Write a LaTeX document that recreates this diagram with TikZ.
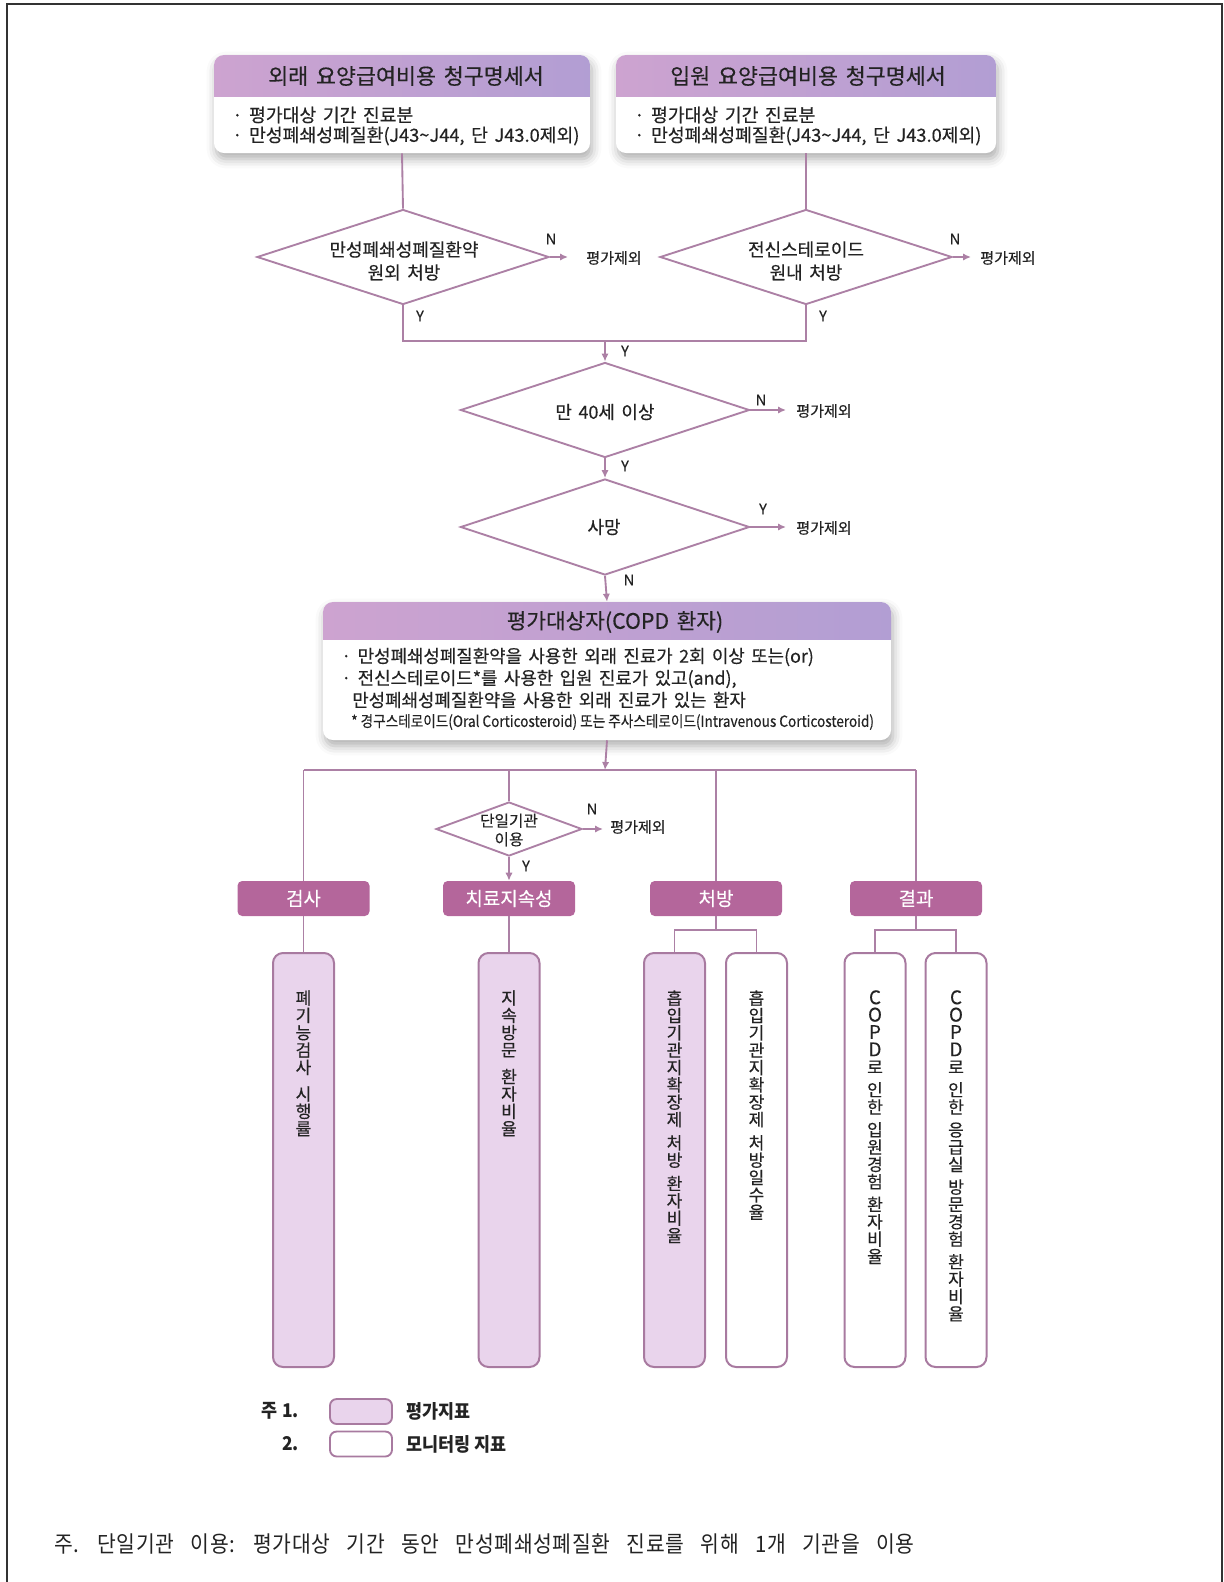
\documentclass[tikz,border=0pt]{standalone}
\usepackage{fontspec}
\setmainfont{Noto Sans CJK KR}[WordSpace=1.6, FakeBold=0.35]
\newfontfamily\condfont{Noto Sans CJK KR}[FakeStretch=0.88, FakeBold=0.3]
\newfontfamily\legfont{Noto Sans CJK KR}[FakeStretch=0.92]
\newfontfamily\notefont{Noto Sans CJK KR}[FakeStretch=0.9, WordSpace=3.1, LetterSpace=3]
\usetikzlibrary{arrows.meta,shapes.geometric,shadows.blur}
\definecolor{linec}{RGB}{172,128,165}
\definecolor{catc}{RGB}{180,102,155}
\definecolor{lav}{RGB}{233,212,236}
\definecolor{hdrL}{RGB}{205,163,208}
\definecolor{hdrR}{RGB}{178,158,211}
\definecolor{txt}{RGB}{35,35,35}
\definecolor{bord}{RGB}{168,122,160}
\definecolor{framec}{RGB}{50,50,50}
\newcommand{\bigL}[1]{{\fontsize{14}{13}\selectfont #1}}
\begin{document}
\begin{tikzpicture}[x=0.75pt,y=-0.75pt,
  ln/.style={draw=linec, line width=1.4pt},
  arr/.style={ln, -{Latex[length=6pt,width=5.5pt]}},
  dia/.style={diamond, draw=linec, line width=1.4pt, inner sep=0pt, fill=white},
  wbox/.style={rectangle, fill=white, inner sep=0pt, rounded corners=7.5pt,
    blur shadow={shadow xshift=1.5pt, shadow yshift=-4.5pt, shadow blur radius=7pt, shadow opacity=32}},
  htitle/.style={font=\fontsize{16.3}{18}\selectfont, text=txt, inner sep=0pt},
  bul/.style={font=\fontsize{13.7}{15}\selectfont, text=txt, inner sep=0pt, anchor=west},
  bul3/.style={font=\fontsize{13.4}{15}\selectfont, text=txt, inner sep=0pt, anchor=west},
  dtext/.style={font=\fontsize{13.5}{17.2}\selectfont, text=txt, inner sep=0pt, align=center},
  excl/.style={font=\fontsize{11.3}{12}\selectfont, text=txt, inner sep=0pt},
  yn/.style={font=\fontsize{11}{12}\selectfont, text=txt, inner sep=0pt},
  catbox/.style={rectangle, fill=catc, rounded corners=3.5pt, inner sep=0pt,
    minimum width={132*0.75pt}, minimum height={35*0.75pt},
    text=white, font=\fontsize{14.2}{15}\selectfont},
  tall/.style={rectangle, draw=bord, line width=1.5pt, rounded corners=7.5pt, inner sep=0pt,
    minimum width={61*0.75pt}, minimum height={414*0.75pt}},
  vt/.style={font=\fontsize{12.8}{13}\selectfont, text=txt, inner sep=0pt, align=center, anchor=north},
  legtext/.style={font=\legfont\bfseries\fontsize{14.2}{15}\selectfont, text=txt, inner sep=0pt},
  legbox/.style={rectangle, draw=bord, line width=1.4pt, rounded corners=5pt, inner sep=0pt,
    minimum width={62*0.75pt}, minimum height={25*0.75pt}}
]
\useasboundingbox (0,0) rectangle (1224,1582);
\draw[framec, line width=1.6pt] (7,1582) -- (7,4) -- (1222,4) -- (1222,1582);

% ---------- top boxes ----------
\node (boxA) [wbox, minimum width={376*0.75pt}, minimum height={98*0.75pt}] at (402,104) {};
\begin{scope}
  \clip[rounded corners=7.5pt] (214,55) rectangle (590,153);
  \shade[left color=hdrL, right color=hdrR] (214,55) rectangle (590,96);
\end{scope}
\node (tA) [htitle] at (406,76) {외래 요양급여비용 청구명세서};
\node (bA1) [bul] at (232,115) {· 평가대상 기간 진료분};
\node (bA2) [bul] at (232,136) {· 만성폐쇄성폐질환(J43\textasciitilde J44, 단 J43.0제외)};

\node (boxB) [wbox, minimum width={380*0.75pt}, minimum height={98*0.75pt}] at (806,104) {};
\begin{scope}
  \clip[rounded corners=7.5pt] (616,55) rectangle (996,153);
  \shade[left color=hdrL, right color=hdrR] (616,55) rectangle (996,96);
\end{scope}
\node (tB) [htitle] at (808,76) {입원 요양급여비용 청구명세서};
\node (bB1) [bul] at (634,115) {· 평가대상 기간 진료분};
\node (bB2) [bul] at (634,136) {· 만성폐쇄성폐질환(J43\textasciitilde J44, 단 J43.0제외)};

% ---------- first diamonds ----------
\node (d1) [dia, minimum width={292*0.75pt}, minimum height={95*0.75pt}] at (403,257) {};
\node (d1t) [dtext] at (404,261) {만성폐쇄성폐질환약\\원외 처방};
\node (d2) [dia, minimum width={292*0.75pt}, minimum height={95*0.75pt}] at (806,257) {};
\node (d2t) [dtext] at (806,261) {전신스테로이드\\원내 처방};

\draw[ln] (boxA.south) -- (d1.north);
\draw[ln] (boxB.south) -- (d2.north);

\coordinate (n1e) at (568,257);
\coordinate (n2e) at (971,257);
\draw[arr] (d1.east) -- (n1e);
\draw[arr] (d2.east) -- (n2e);
\node (ex1) [excl] at (614,258) {평가제외};
\node (ex2) [excl] at (1008,258) {평가제외};
\node (N1) [yn] at (551,239) {N};
\node (N2) [yn] at (955,239) {N};
\node (Y1) [yn] at (420,316) {Y};
\node (Y2) [yn] at (823,316) {Y};

\coordinate (join) at (605,341);
\draw[ln] (d1.south) |- (join) -| (d2.south);

% ---------- age / death ----------
\node (d3) [dia, minimum width={289*0.75pt}, minimum height={95*0.75pt}] at (605,410) {};
\node (d3t) [dtext] at (605,412) {만 40세 이상};
\draw[arr] (join) -- (d3.north);
\node (Y3) [yn] at (625,351) {Y};
\coordinate (n3e) at (786,410);
\draw[arr] (d3.east) -- (n3e);
\node (N3) [yn] at (761,400) {N};
\node (ex3) [excl] at (824,411) {평가제외};

\node (d4) [dia, minimum width={289*0.75pt}, minimum height={96*0.75pt}] at (605,527) {};
\node (d4t) [dtext] at (604,527) {사망};
\draw[arr] (d3.south) -- (d4.north);
\node (Y4) [yn] at (625,466) {Y};
\coordinate (n4e) at (786,527);
\draw[arr] (d4.east) -- (n4e);
\node (Y5) [yn] at (763,509) {Y};
\node (ex4) [excl] at (824,528) {평가제외};

% ---------- target population ----------
\node (box3) [wbox, minimum width={568*0.75pt}, minimum height={138*0.75pt}] at (607,671) {};
\begin{scope}
  \clip[rounded corners=7.5pt] (323,602) rectangle (891,740);
  \shade[left color=hdrL, right color=hdrR] (323,602) rectangle (891,639);
\end{scope}
\node (t3) [htitle, font=\fontsize{16}{17}\selectfont] at (615,622) {평가대상자(COPD 환자)};
\draw[arr] (d4.south) -- (box3.north);
\node (N4) [yn] at (629,580) {N};
\node (b31) [bul3] at (341,657) {· 만성폐쇄성폐질환약을 사용한 외래 진료가 2회 이상 또는(or)};
\node (b32) [bul3] at (341,679) {· 전신스테로이드*를 사용한 입원 진료가 있고(and),};
\node (b33) [bul3] at (352,700) {만성폐쇄성폐질환약을 사용한 외래 진료가 있는 환자};
\node (b34) [bul3, font=\condfont\fontsize{11.6}{13}\selectfont] at (351,722) {* 경구스테로이드(Oral Corticosteroid) 또는 주사스테로이드(Intravenous Corticosteroid)};

% ---------- branches ----------
\coordinate (bar) at (605,770);
\draw[arr] (box3.south) -- (bar);

\node (c1) [catbox] at (303.5,898.5) {검사};
\node (c2) [catbox] at (509,898.5) {치료지속성};
\node (c3) [catbox] at (716,898.5) {처방};
\node (c4) [catbox] at (916,898.5) {결과};

\node (d5) [dia, minimum width={146*0.75pt}, minimum height={54*0.75pt}] at (509,829) {};
\node (d5t) [dtext, font=\fontsize{11.8}{14}\selectfont] at (509,830) {단일기관\\이용};

\draw[ln] (c1.north |- bar) -- (c4.north |- bar);
\draw[ln] (c1.north |- bar) -- (c1.north);
\draw[ln] (d5.north |- bar) -- (d5.north);
\draw[ln] (c3.north |- bar) -- (c3.north);
\draw[ln] (c4.north |- bar) -- (c4.north);

\coordinate (n5e) at (603,829);
\draw[arr] (d5.east) -- (n5e);
\node (N5) [yn] at (592,809) {N};
\node (ex5) [excl] at (638,827) {평가제외};
\draw[arr] (d5.south) -- (c2.north);
\node (Y6) [yn] at (526,866) {Y};

% ---------- indicator boxes ----------
\node (T1) [tall, fill=lav] at (303.5,1160) {};
\node (T2) [tall, fill=lav] at (509,1160) {};
\node (T3) [tall, fill=lav] at (674.5,1160) {};
\node (T4) [tall, fill=white] at (756.5,1160) {};
\node (T5) [tall, fill=white] at (875,1160) {};
\node (T6) [tall, fill=white] at (956,1160) {};

\draw[ln] (c1.south) -- (T1.north);
\draw[ln] (c2.south) -- (T2.north);
\coordinate (s3) at (716,930);
\coordinate (s4) at (916,930);
\draw[ln] (c3.south) -- (s3);
\draw[ln] (T3.north) |- (s3) -| (T4.north);
\draw[ln] (c4.south) -- (s4);
\draw[ln] (T5.north) |- (s4) -| (T6.north);

\node (T1t) [vt] at (303.5,990) {폐\\기\\능\\검\\사\\[7pt]시\\행\\률};
\node (T2t) [vt] at (509,990) {지\\속\\방\\문\\[7pt]환\\자\\비\\율};
\node (T3t) [vt] at (674.5,990) {흡\\입\\기\\관\\지\\확\\장\\제\\[4.5pt]처\\방\\[4.5pt]환\\자\\비\\율};
\node (T4t) [vt] at (756.5,990) {흡\\입\\기\\관\\지\\확\\장\\제\\[4.5pt]처\\방\\일\\수\\율};
\node (T5t) [vt] at (875,990) {\bigL{C}\\\bigL{O}\\\bigL{P}\\\bigL{D}\\로\\[4pt]인\\한\\[4pt]입\\원\\경\\험\\[4pt]환\\자\\비\\율};
\node (T6t) [vt] at (956,990) {\bigL{C}\\\bigL{O}\\\bigL{P}\\\bigL{D}\\로\\[4pt]인\\한\\[4pt]응\\급\\실\\[4pt]방\\문\\경\\험\\[4pt]환\\자\\비\\율};

% ---------- legend ----------
\node (L1) [legtext, anchor=east] at (299,1411) {주 1.};
\node (L1b) [legbox, fill=lav] at (361,1411.5) {};
\node (L1t) [legtext, anchor=west] at (406,1411) {평가지표};
\node (L2) [legtext, anchor=east] at (299,1444) {2.};
\node (L2b) [legbox, fill=white] at (361,1444) {};
\node (L2t) [legtext, anchor=west] at (406,1444) {모니터링 지표};

% ---------- footnote ----------
\node (fn) [anchor=west, inner sep=0pt, text=txt, font=\notefont\fontsize{17}{18}\selectfont] at (54,1544)
  {주. 단일기관 이용: 평가대상 기간 동안 만성폐쇄성폐질환 진료를 위해 1개 기관을 이용};
\end{tikzpicture}
\end{document}
